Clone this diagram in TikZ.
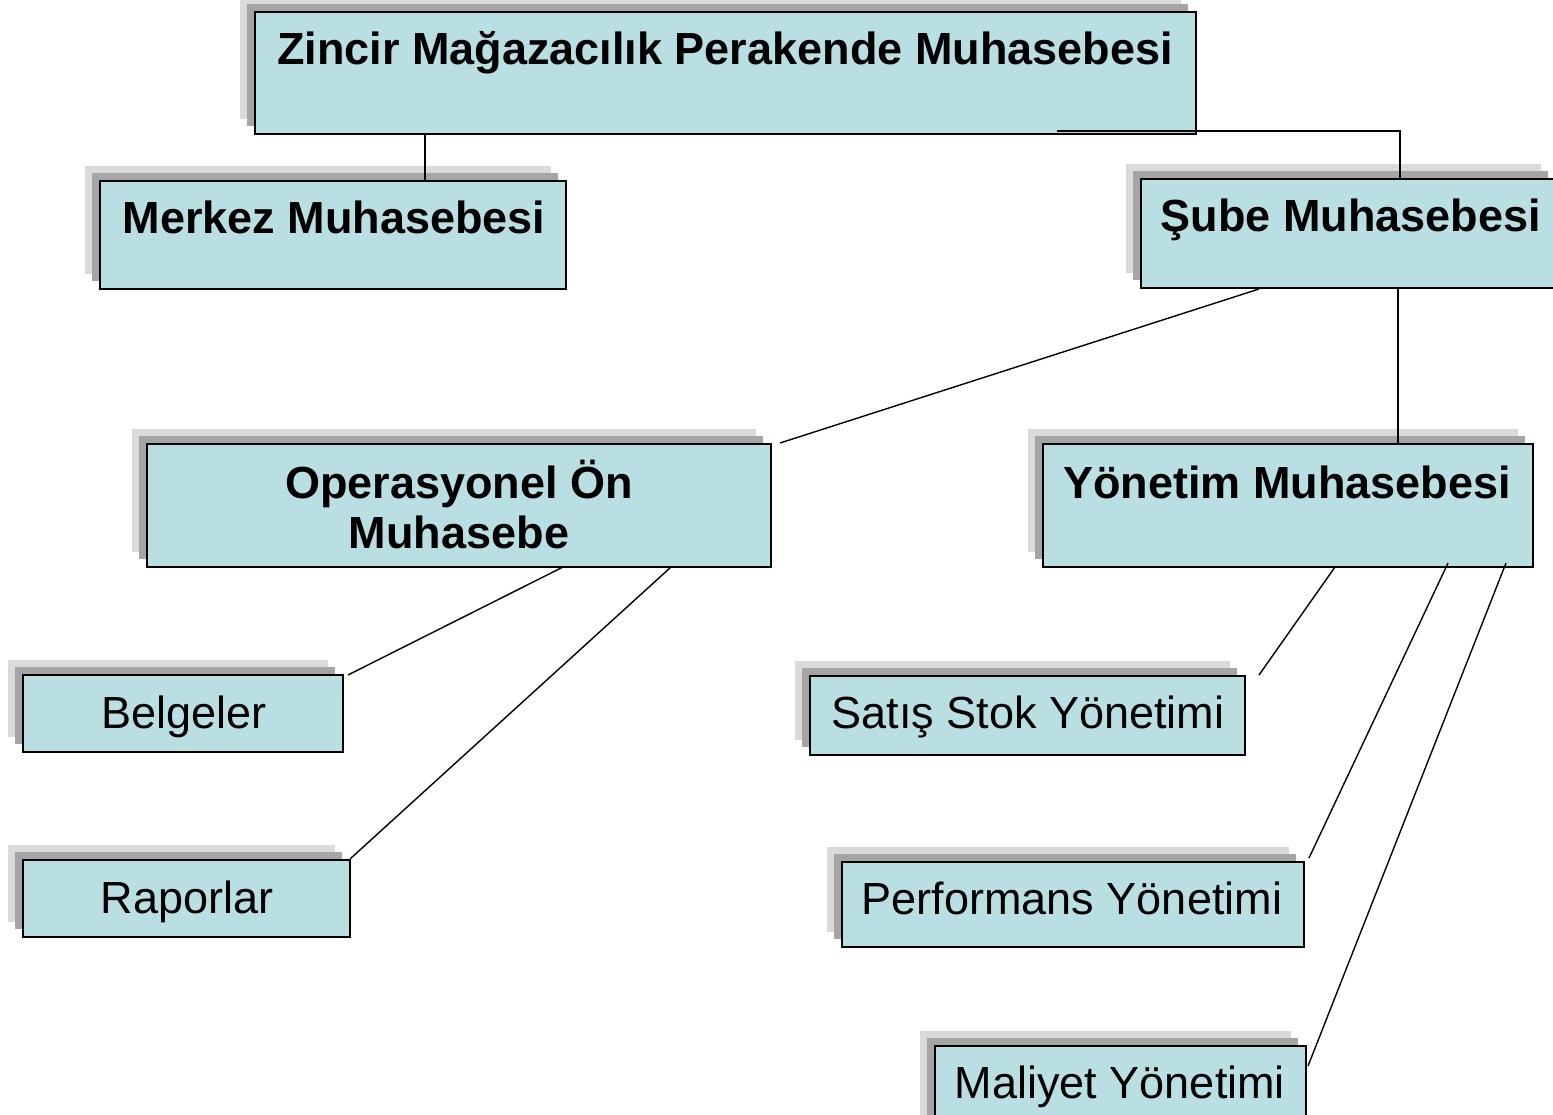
\documentclass[tikz,border=0pt]{standalone}
\usepackage{fontspec}
\setmainfont{Liberation Sans}
\usetikzlibrary{calc}
\definecolor{boxfill}{RGB}{185,223,227}
\definecolor{shdark}{RGB}{165,165,165}
\definecolor{shlight}{RGB}{218,218,218}
\tikzset{
  orgbox/.style={draw=black, line width=1.8pt, fill=boxfill, rectangle, inner sep=0pt},
  btxt/.style={font=\fontsize{45}{50}\selectfont\bfseries, anchor=base, inner sep=0pt},
  rtxt/.style={font=\fontsize{45}{50}\selectfont, anchor=base, inner sep=0pt},
  conn/.style={draw=black, line width=1.4pt}
}
\newcommand{\orgnode}[5]{% name, x1, y1, x2, y2
  \fill[shlight] (#2-15,#3-15) rectangle (#4-15,#5-15);
  \fill[shdark] (#2-8,#3-8) rectangle (#4-8,#5-8);
  \node[orgbox, minimum width={(#4-#2)*1pt}, minimum height={(#5-#3)*1pt}] (#1) at ({(#2+#4)/2},{(#3+#5)/2}) {};
}
\begin{document}
\begin{tikzpicture}[x=1pt,y=-1pt]
\clip (0,0) rectangle (1553,1115);
\fill[white] (0,0) rectangle (1553,1115);

\orgnode{top}{255}{12}{1196}{134}
\orgnode{merkez}{100}{181}{566}{289}
\orgnode{sube}{1141}{179}{1556}{288}
\orgnode{oper}{147}{444}{771}{567}
\orgnode{yonetim}{1043}{444}{1533}{567}
\orgnode{belge}{23}{675}{343}{752}
\orgnode{rapor}{23}{860}{350}{937}
\orgnode{satis}{810}{676}{1245}{755}
\orgnode{perf}{842}{862}{1304}{947}
\orgnode{maliyet}{935}{1046}{1306}{1130}

\node[btxt] (ttop) at (725,65) {Zincir Mağazacılık Perakende Muhasebesi};
\node[btxt] (tmerkez) at (334,234) {Merkez Muhasebesi};
\node[btxt] (tsube) at (1351,232) {Şube Muhasebesi};
\node[btxt] (toper1) at (459,498) {Operasyonel Ön};
\node[btxt] (toper2) at (459,548) {Muhasebe};
\node[btxt] (tyon) at (1287,498) {Yönetim Muhasebesi};
\node[rtxt] (tbelge) at (184,728) {Belgeler};
\node[rtxt] (trapor) at (187,913) {Raporlar};
\node[rtxt] (tsatis) at (1028,728) {Satış Stok Yönetimi};
\node[rtxt] (tperf) at (1072,914) {Performans Yönetimi};
\node[rtxt] (tmal) at (1120,1098) {Maliyet Yönetimi};

% connector end points
\coordinate (a1) at (425,134);
\coordinate (a2) at (425,181);
\coordinate (b1) at (1057,131);
\coordinate (b2) at (1400,131);
\coordinate (b3) at (1400,179);
\coordinate (c1) at (1259,289);
\coordinate (c2) at (780,443);
\coordinate (d1) at (1398,288);
\coordinate (d2) at (1398,443);
\coordinate (e1) at (563,567);
\coordinate (e2) at (348,675);
\coordinate (f1) at (671,567);
\coordinate (f2) at (350,859);
\coordinate (g1) at (1335,567);
\coordinate (g2) at (1259,675);
\coordinate (h1) at (1448,563);
\coordinate (h2) at (1309,858);
\coordinate (i1) at (1506,563);
\coordinate (i2) at (1308,1066);

\draw[conn] (a1) -- (a2);
\draw[conn] (b1) -- (b2) -- (b3);
\draw[conn] (c1) -- (c2);
\draw[conn] (d1) -- (d2);
\draw[conn] (e1) -- (e2);
\draw[conn] (f1) -- (f2);
\draw[conn] (g1) -- (g2);
\draw[conn] (h1) -- (h2);
\draw[conn] (i1) -- (i2);
\end{tikzpicture}
\end{document}
